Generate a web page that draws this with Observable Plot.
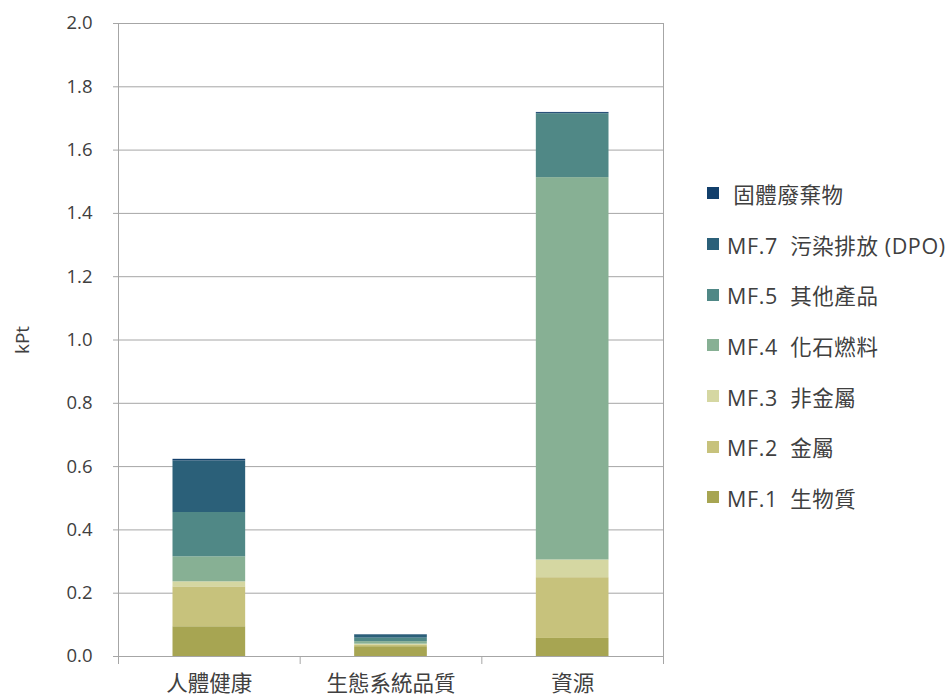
<!DOCTYPE html>
<html>
<head>
<meta charset="utf-8">
<script src="https://cdn.jsdelivr.net/npm/d3@7"></script>
<script src="https://cdn.jsdelivr.net/npm/@observablehq/plot@0.6"></script>
<style>
  body { margin: 0; background: #fff; }
  #wrap { position: relative; width: 951px; height: 697px; font-family: "Open Sans", "Noto Sans CJK TC", sans-serif; }
  #legend { position: absolute; left: 707px; top: 168px; color: #404040; font-size: 21.5px; letter-spacing: 0.6px; }
  .row { height: 50.7px; display: flex; align-items: center; white-space: pre; }
  .sw { width: 12px; height: 12px; margin-right: 8px; flex: none; }
</style>
</head>
<body>
<div id="wrap"></div>
<script>
const categories = ["人體健康", "生態系統品質", "資源"];
const series = ["MF.1 生物質", "MF.2 金屬", "MF.3 非金屬", "MF.4 化石燃料", "MF.5 其他產品", "MF.7 污染排放 (DPO)", " 固體廢棄物"];
const colors = ["#a7a552", "#c7c27c", "#d5d7a2", "#87b094", "#508886", "#2b6079", "#123f6b"];
// values per series, in category order
const mf1   = [0.094, 0.031, 0.057];
const mf2   = [0.126, 0.004, 0.192];
const mf3   = [0.016, 0.004, 0.056];
const mf4   = [0.079, 0.008, 1.208];
const mf5   = [0.140, 0.011, 0.202];
const mf7   = [0.163, 0.010, 0.001];
const solid = [0.005, 0.001, 0.003];
const yTicks = [0, 0.2, 0.4, 0.6, 0.8, 1.0, 1.2, 1.4, 1.6, 1.8, 2.0];
const xBounds = [0, 1, 2, 3];

const valueLists = [mf1, mf2, mf3, mf4, mf5, mf7, solid];
const rows = [];
categories.forEach((c, i) => {
  series.forEach((s, k) => rows.push({i, category: c, series: s, value: valueLists[k][i]}));
});

const grid = "#a6a6a6";
const chart = Plot.plot({
  width: 951,
  height: 697,
  marginLeft: 118,
  marginRight: 288,
  marginTop: 23,
  marginBottom: 41,
  style: {fontFamily: '"Open Sans", "Noto Sans CJK TC", sans-serif', color: "#404040", background: "transparent"},
  x: {type: "linear", domain: [0, 3], axis: null},
  y: {domain: [0, 2], axis: null},
  color: {domain: series, range: colors},
  marks: [
    Plot.gridY(yTicks, {stroke: grid, strokeOpacity: 1}),
    Plot.rectY(rows, {x1: d => d.i + 0.3, x2: d => d.i + 0.7, y: "value", fill: "series", insetLeft: 0, insetRight: 0}),
    Plot.ruleX([0, 3], {stroke: grid}),
    Plot.ruleY([0], {stroke: grid}),
    Plot.axisY({ticks: yTicks, tickFormat: d => d.toFixed(1), tickSize: 5, tickPadding: 21, fontSize: 18.5, stroke: grid, label: null}),
    Plot.axisX({ticks: xBounds, tickFormat: () => "", tickSize: 8, stroke: grid, label: null}),
    Plot.axisX({ticks: categories.map((c, i) => i + 0.5), tickFormat: (d) => categories[Math.floor(d)], tickSize: 0, tickPadding: 19, fontSize: 21.5, label: null})
  ]
});

const wrap = document.getElementById("wrap");
chart.style.position = "absolute";
chart.style.left = "0";
chart.style.top = "0";
wrap.appendChild(chart);

// y label
const svg = d3.select(chart);
svg.append("text")
  .attr("transform", "translate(29,340) rotate(-90)")
  .attr("text-anchor", "middle")
  .attr("fill", "#404040")
  .attr("font-size", 19)
  .text("kPt");

// legend (top to bottom: reverse of stack order)
const legend = document.createElement("div");
legend.id = "legend";
series.slice().reverse().forEach(s => {
  const row = document.createElement("div");
  row.className = "row";
  const sw = document.createElement("span");
  sw.className = "sw";
  sw.style.background = colors[series.indexOf(s)];
  const t = document.createElement("span");
  t.textContent = s.replace(/^(MF\.\d) /, "$1  ");
  row.appendChild(sw);
  row.appendChild(t);
  legend.appendChild(row);
});
wrap.appendChild(legend);
</script>
</body>
</html>
